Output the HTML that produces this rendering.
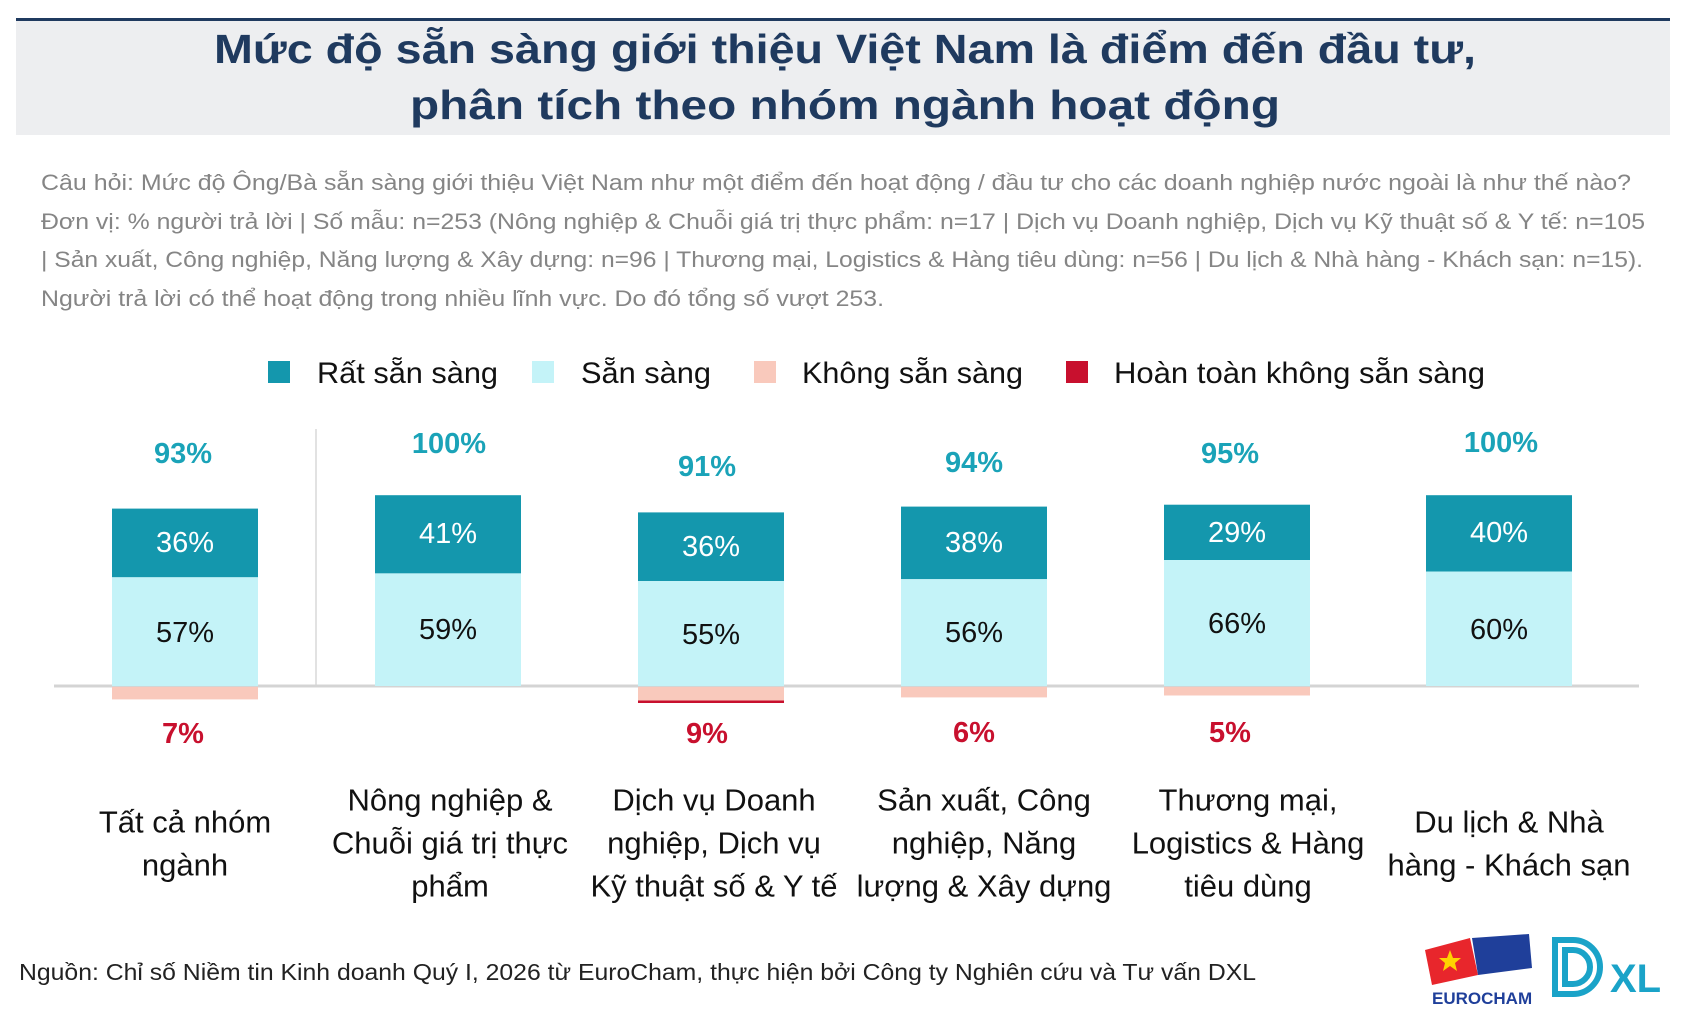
<!DOCTYPE html>
<html><head><meta charset="utf-8"><style>
body{margin:0;background:#fff;}
#w{position:relative;width:1688px;height:1022px;overflow:hidden;font-family:"Liberation Sans",sans-serif;}
</style></head><body><div id="w">
<svg width="1688" height="1022" xmlns="http://www.w3.org/2000/svg" font-family="Liberation Sans, sans-serif">
<rect x="16" y="19" width="1654" height="116" fill="#edeef0"/>
<rect x="16" y="18" width="1654" height="3" fill="#1f3a5f"/>
<g fill="#1f3a5f" font-weight="bold" font-size="41" text-anchor="middle">
<text x="845" y="63" textLength="1262" lengthAdjust="spacingAndGlyphs">Mức độ sẵn sàng giới thiệu Việt Nam là điểm đến đầu tư,</text>
<text x="845" y="119" textLength="870" lengthAdjust="spacingAndGlyphs">phân tích theo nhóm ngành hoạt động</text>
</g>
<g fill="#858585" font-size="22">
<text x="41" y="190" textLength="1590" lengthAdjust="spacingAndGlyphs">Câu hỏi: Mức độ Ông/Bà sẵn sàng giới thiệu Việt Nam như một điểm đến hoạt động / đầu tư cho các doanh nghiệp nước ngoài là như thế nào?</text>
<text x="41" y="229" textLength="1604" lengthAdjust="spacingAndGlyphs">Đơn vị: % người trả lời | Số mẫu: n=253 (Nông nghiệp &amp; Chuỗi giá trị thực phẩm: n=17 | Dịch vụ Doanh nghiệp, Dịch vụ Kỹ thuật số &amp; Y tế: n=105</text>
<text x="41" y="267" textLength="1602" lengthAdjust="spacingAndGlyphs">| Sản xuất, Công nghiệp, Năng lượng &amp; Xây dựng: n=96 | Thương mại, Logistics &amp; Hàng tiêu dùng: n=56 | Du lịch &amp; Nhà hàng - Khách sạn: n=15).</text>
<text x="41" y="306" textLength="843" lengthAdjust="spacingAndGlyphs">Người trả lời có thể hoạt động trong nhiều lĩnh vực. Do đó tổng số vượt 253.</text>
</g>
<g font-size="30" fill="#111">
<rect x="268" y="361" width="22" height="22" fill="#1497ad"/><text x="317" y="383" textLength="181" lengthAdjust="spacingAndGlyphs">Rất sẵn sàng</text>
<rect x="532" y="361" width="22" height="22" fill="#c4f3f8"/><text x="581" y="383" textLength="130" lengthAdjust="spacingAndGlyphs">Sẵn sàng</text>
<rect x="754" y="361" width="22" height="22" fill="#f9c9bc"/><text x="802" y="383" textLength="221" lengthAdjust="spacingAndGlyphs">Không sẵn sàng</text>
<rect x="1066" y="361" width="22" height="22" fill="#c8102e"/><text x="1114" y="383" textLength="371" lengthAdjust="spacingAndGlyphs">Hoàn toàn không sẵn sàng</text>
</g>
<g transform="translate(0,-2)">
<line x1="316" y1="431" x2="316" y2="688" stroke="#d8d8d8" stroke-width="1.5"/>
<line x1="54" y1="688" x2="1639" y2="688" stroke="#d4d4d4" stroke-width="3"/>
<g>
<rect x="112" y="510.6" width="146" height="68.7" fill="#1497ad"/><rect x="112" y="579.3" width="146" height="108.7" fill="#c4f3f8"/><rect x="112" y="689" width="146" height="12.4" fill="#f9c9bc"/>
<rect x="375" y="497.2" width="146" height="78.2" fill="#1497ad"/><rect x="375" y="575.4" width="146" height="112.6" fill="#c4f3f8"/>
<rect x="638" y="514.4" width="146" height="68.7" fill="#1497ad"/><rect x="638" y="583.1" width="146" height="104.9" fill="#c4f3f8"/><rect x="638" y="689" width="146" height="14.3" fill="#f9c9bc"/><rect x="638" y="702.5" width="146" height="2.5" fill="#c8102e"/>
<rect x="901" y="508.6" width="146" height="72.6" fill="#1497ad"/><rect x="901" y="581.2" width="146" height="106.8" fill="#c4f3f8"/><rect x="901" y="689" width="146" height="10.4" fill="#f9c9bc"/>
<rect x="1164" y="506.7" width="146" height="55.3" fill="#1497ad"/><rect x="1164" y="562" width="146" height="126" fill="#c4f3f8"/><rect x="1164" y="689" width="146" height="8.5" fill="#f9c9bc"/>
<rect x="1426" y="497.2" width="146" height="76.3" fill="#1497ad"/><rect x="1426" y="573.5" width="146" height="114.5" fill="#c4f3f8"/>
</g>
<g font-size="29" text-anchor="middle" dominant-baseline="central">
<g fill="#fff">
<text x="185" y="545">36%</text><text x="448" y="536">41%</text><text x="711" y="549">36%</text><text x="974" y="545">38%</text><text x="1237" y="535">29%</text><text x="1499" y="535">40%</text>
</g>
<g fill="#111">
<text x="185" y="635">57%</text><text x="448" y="632">59%</text><text x="711" y="637">55%</text><text x="974" y="635">56%</text><text x="1237" y="626">66%</text><text x="1499" y="632">60%</text>
</g>
<g fill="#1aa3b8" font-weight="bold">
<text x="183" y="456">93%</text><text x="449" y="446">100%</text><text x="707" y="469">91%</text><text x="974" y="465">94%</text><text x="1230" y="456">95%</text><text x="1501" y="445">100%</text>
</g>
<g fill="#c8102e" font-weight="bold">
<text x="183" y="736">7%</text><text x="707" y="736">9%</text><text x="974" y="735">6%</text><text x="1230" y="735">5%</text>
</g>
</g>
</g>
<g font-size="31" text-anchor="middle" dominant-baseline="central" fill="#111">
<text x="185" y="822">Tất cả nhóm</text><text x="185" y="865">ngành</text>
<text x="450" y="800">Nông nghiệp &amp;</text><text x="450" y="843">Chuỗi giá trị thực</text><text x="450" y="886">phẩm</text>
<text x="714" y="800">Dịch vụ Doanh</text><text x="714" y="843">nghiệp, Dịch vụ</text><text x="714" y="886">Kỹ thuật số &amp; Y tế</text>
<text x="984" y="800">Sản xuất, Công</text><text x="984" y="843">nghiệp, Năng</text><text x="984" y="886">lượng &amp; Xây dựng</text>
<text x="1248" y="800">Thương mại,</text><text x="1248" y="843">Logistics &amp; Hàng</text><text x="1248" y="886">tiêu dùng</text>
<text x="1509" y="822">Du lịch &amp; Nhà</text><text x="1509" y="865">hàng - Khách sạn</text>
</g>
<text x="19" y="980" font-size="23" fill="#222" textLength="1237" lengthAdjust="spacingAndGlyphs">Nguồn: Chỉ số Niềm tin Kinh doanh Quý I, 2026 từ EuroCham, thực hiện bởi Công ty Nghiên cứu và Tư vấn DXL</text>
<g>
<path d="M1425 950 L1470 938 L1478 975 L1432 985 Z" fill="#e8262c"/>
<polygon points="1450,950 1453,958 1461,958 1455,963 1457,971 1450,966 1443,971 1445,963 1439,958 1447,958" fill="#ffd200"/>
<path d="M1472 938 L1529 934 L1532 968 L1478 975 Z" fill="#1f3f9a"/>
<text x="1432" y="1004" font-size="17" font-weight="bold" fill="#1f3f9a">EUROCHAM</text>
<path d="M1555 940 h18 a27 27 0 0 1 0 54 h-18 z M1565 950 h8 a17 17 0 0 1 0 34 h-8 z" fill="none" stroke="#1aa3c8" stroke-width="6"/>
<text x="1610" y="992" font-size="40" font-weight="bold" fill="#1aa3c8">XL</text>
</g>
</svg>
</div></body></html>
